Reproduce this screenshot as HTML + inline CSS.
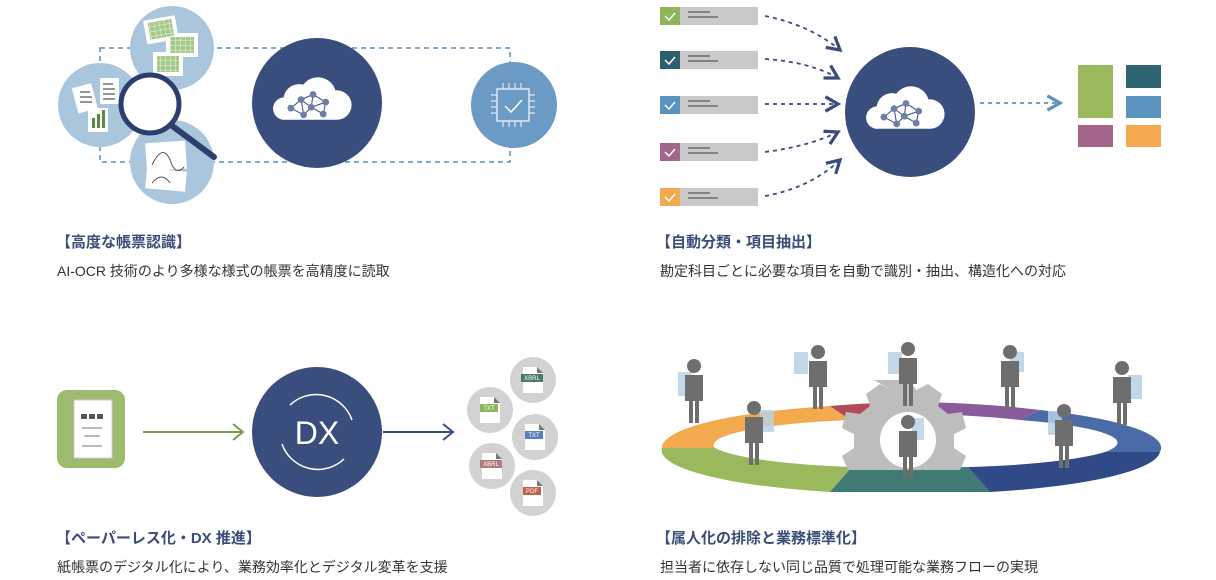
<!DOCTYPE html>
<html><head><meta charset="utf-8"><style>
body{margin:0;background:#fff;width:1216px;height:580px;overflow:hidden;font-family:"Liberation Sans","Noto Sans CJK JP",sans-serif}
.t{position:absolute;font-size:15px;font-weight:bold;color:#3b4c7a;white-space:nowrap}
.s{position:absolute;font-size:14px;color:#333;white-space:nowrap}
</style></head><body>
<svg width="1216" height="580" style="position:absolute;left:0;top:0">
<defs>
<marker id="ah" markerWidth="10" markerHeight="10" refX="8" refY="5" orient="auto"><path d="M1,1 L8,5 L1,9" fill="none" stroke="#3b4c7a" stroke-width="1.8"/></marker>
<marker id="ahb" markerWidth="10" markerHeight="10" refX="8" refY="5" orient="auto"><path d="M1,1 L8,5 L1,9" fill="none" stroke="#5b93bf" stroke-width="1.8"/></marker>
<pattern id="grid" width="5" height="5" patternUnits="userSpaceOnUse"><rect width="5" height="5" fill="#a6c98a"/><path d="M0,0H5M0,0V5" stroke="#fff" stroke-width="0.8"/></pattern>
<g id="cloud"><path transform="scale(0.7)" d="M-40,24 a16,16 0 0 1 -2,-32 a22,22 0 0 1 28,-18 a26,26 0 0 1 46,8 a20,20 0 0 1 4,42 z" fill="#fff"/>
<g transform="scale(0.85)">
<g stroke="#3b4c7a" stroke-width="1.2" fill="none"><path d="M-26,6 L-14,-4 L0,-10 L15,-1 L12,13 L-2,5 L-14,-4 M-26,6 L-11,14 L-2,5 L0,-10 M-2,5 L15,-1 M-14,-4 L-11,14"/></g>
<g fill="#6f7ea6"><circle cx="-26" cy="6" r="4"/><circle cx="-14" cy="-4" r="4"/><circle cx="0" cy="-10" r="4"/><circle cx="15" cy="-1" r="4"/><circle cx="12" cy="13" r="4"/><circle cx="-2" cy="5" r="4"/><circle cx="-11" cy="14" r="4"/></g></g></g>
<g id="person"><circle cx="0" cy="-36" r="7" fill="#6e6e6e"/><path d="M-9,-27 h18 v26 h-4 v22 h-4 v-22 h-2 v22 h-4 v-22 h-4z" fill="#6e6e6e"/></g>
<g id="file"><path d="M-10,-13 h14 l6,6 v20 h-20z" fill="#fff"/><path d="M4,-13 l6,6 h-6z" fill="#777"/></g>
</defs>
<!-- Panel 1 -->
<rect x="100" y="48" width="410" height="114" fill="none" stroke="#5b8fbd" stroke-width="1.5" stroke-dasharray="5,4"/>
<circle cx="172" cy="48" r="42" fill="#a9c6dd"/>
<circle cx="100" cy="105" r="42" fill="#a9c6dd"/>
<circle cx="172" cy="162" r="42" fill="#a9c6dd"/>
<g fill="#fff"><rect x="145" y="18" width="32" height="24" transform="rotate(-10 160 30)"/><rect x="166" y="33" width="32" height="24"/><rect x="153" y="52" width="30" height="24"/></g>
<g fill="url(#grid)"><rect x="149" y="21" width="24" height="17" transform="rotate(-10 160 30)"/><rect x="170" y="37" width="24" height="16"/><rect x="157" y="56" width="22" height="16"/></g>
<g fill="#fff"><rect x="75" y="85" width="20" height="26" transform="rotate(-15 86 99)"/><rect x="100" y="78" width="19" height="26"/><rect x="88" y="108" width="20" height="24"/><rect x="146" y="142" width="40" height="28" transform="rotate(-4 166 155)"/><rect x="146" y="170" width="40" height="20" transform="rotate(5 166 180)"/></g>
<g stroke="#555" stroke-width="1.2"><path d="M80,92h10M80,97h12M80,102h12M103,84h10M103,89h12M103,94h12M103,99h12"/></g>
<g fill="#5a8a3a"><rect x="92" y="118" width="3" height="10"/><rect x="97" y="114" width="3" height="14"/><rect x="102" y="110" width="3" height="18"/></g>
<path d="M152,165 q12,-25 20,0 q5,10 12,2" fill="none" stroke="#555"/><path d="M152,183 q10,-12 18,0" fill="none" stroke="#555"/>
<circle cx="150" cy="104" r="29" fill="#fff" stroke="#2c3e6b" stroke-width="5"/>
<line x1="171" y1="125" x2="214" y2="157" stroke="#2c3e6b" stroke-width="6" stroke-linecap="round"/>
<circle cx="317" cy="103" r="65" fill="#3a4e7e"/>
<use href="#cloud" x="313" y="103"/>
<circle cx="514" cy="105" r="43" fill="#6b9ac4"/>
<rect x="497" y="89" width="32" height="32" fill="none" stroke="#dbe8f3" stroke-width="1.5"/>
<path d="M505,106 l6,6 l11,-12" fill="none" stroke="#fff" stroke-width="1.5"/>
<g stroke="#dbe8f3" stroke-width="1.2"><path d="M503,83v6M509,83v6M515,83v6M521,83v6M503,121v6M509,121v6M515,121v6M521,121v6M491,95h6M491,101h6M491,107h6M491,113h6M529,95h6M529,101h6M529,107h6M529,113h6"/></g>
<!-- Panel 2 -->
<g>
<rect x="660" y="7" width="98" height="18" fill="#c9c9c9"/><rect x="660" y="7" width="20" height="18" fill="#8fb55a"/>
<rect x="660" y="51" width="98" height="18" fill="#c9c9c9"/><rect x="660" y="51" width="20" height="18" fill="#2f5f6e"/>
<rect x="660" y="96" width="98" height="18" fill="#c9c9c9"/><rect x="660" y="96" width="20" height="18" fill="#5b93bf"/>
<rect x="660" y="143" width="98" height="18" fill="#c9c9c9"/><rect x="660" y="143" width="20" height="18" fill="#a3668a"/>
<rect x="660" y="188" width="98" height="18" fill="#c9c9c9"/><rect x="660" y="188" width="20" height="18" fill="#f3a94e"/>
<g fill="none" stroke="#fff" stroke-width="1.5"><path d="M665,16 l4,4 l6,-7M665,60 l4,4 l6,-7M665,105 l4,4 l6,-7M665,152 l4,4 l6,-7M665,197 l4,4 l6,-7"/></g>
<g stroke="#6a6a6a" stroke-width="1.5"><path d="M688,12h22M688,17h30M688,56h22M688,61h30M688,101h22M688,106h30M688,148h22M688,153h30M688,193h22M688,198h30"/></g>
</g>
<g fill="none" stroke="#3b4c7a" stroke-width="1.8" stroke-dasharray="4,4" marker-end="url(#ah)">
<path d="M765,16 Q810,25 840,50"/><path d="M765,59 Q810,62 838,78"/><path d="M765,104 L838,104"/><path d="M765,152 Q810,146 838,132"/><path d="M765,196 Q810,188 840,160"/>
</g>
<circle cx="910" cy="112" r="65" fill="#3a4e7e"/>
<use href="#cloud" x="906" y="112"/>
<line x1="980" y1="103" x2="1060" y2="103" stroke="#5b93bf" stroke-width="1.8" stroke-dasharray="4,4" marker-end="url(#ahb)"/>
<rect x="1078" y="65" width="35" height="53" fill="#9ab85c"/><rect x="1126" y="65" width="35" height="23" fill="#2f6471"/><rect x="1126" y="96" width="35" height="22" fill="#5b93bf"/><rect x="1078" y="125" width="35" height="22" fill="#a3668a"/><rect x="1126" y="125" width="35" height="22" fill="#f3a94e"/>
<!-- Panel 3 -->
<rect x="57" y="390" width="68" height="78" rx="10" fill="#9dba6e"/>
<rect x="74" y="400" width="38" height="58" fill="#fff" stroke="#ccc"/>
<g fill="#555"><rect x="81" y="414" width="6" height="5"/><rect x="89" y="414" width="6" height="5"/><rect x="97" y="414" width="6" height="5"/></g>
<g stroke="#777"><path d="M82,428h20M84,436h16M82,446h20"/></g>
<line x1="143" y1="432" x2="243" y2="432" stroke="#7a9a4a" stroke-width="2"/><path d="M233,424 L243,432 L233,440" fill="none" stroke="#7a9a4a" stroke-width="2"/>
<circle cx="317" cy="432" r="65" fill="#3a4e7e"/>
<path d="M290,405 A38,38 0 0 1 352,420" fill="none" stroke="#fff" stroke-width="1.5"/><path d="M344,459 A38,38 0 0 1 282,444" fill="none" stroke="#fff" stroke-width="1.5"/>
<text x="317" y="444" text-anchor="middle" font-family="Liberation Sans" font-size="32" fill="#fff">DX</text>
<line x1="383" y1="432" x2="453" y2="432" stroke="#3a4e7e" stroke-width="2"/><path d="M443,424 L453,432 L443,440" fill="none" stroke="#3a4e7e" stroke-width="2"/>
<g fill="#d2d2d2"><circle cx="533" cy="380" r="23"/><circle cx="490" cy="410" r="23"/><circle cx="535" cy="437" r="23"/><circle cx="492" cy="466" r="23"/><circle cx="533" cy="493" r="23"/></g>
<g font-size="6" fill="#fff" font-family="Liberation Sans" text-anchor="middle">
<use href="#file" x="533" y="380"/><rect x="521" y="374" width="22" height="8" fill="#4a7a6a"/><text x="532" y="380">XBRL</text>
<use href="#file" x="490" y="410"/><rect x="480" y="404" width="18" height="8" fill="#8fb55a"/><text x="489" y="410">TXT</text>
<use href="#file" x="535" y="437"/><rect x="525" y="431" width="18" height="8" fill="#5b7fbf"/><text x="534" y="437">TXT</text>
<use href="#file" x="492" y="466"/><rect x="480" y="460" width="22" height="8" fill="#b07a80"/><text x="491" y="466">XBRL</text>
<use href="#file" x="533" y="493"/><rect x="523" y="487" width="18" height="8" fill="#c06050"/><text x="532" y="493">PDF</text>
</g>
<!-- Panel 4 -->
<path d="M662,448 A248,44 0 0 1 830,406 L850,420 A190,26 0 0 0 715,448 Z" fill="#f3a94e"/>
<path d="M662,448 A248,44 0 0 0 830,492 L852,467 A190,26 0 0 1 715,448 Z" fill="#9ab85c"/>
<path d="M830,492 L990,492 L968,467 L852,467 Z" fill="#3f7a74"/>
<path d="M990,492 A248,44 0 0 0 1160,452 L1105,452 A190,26 0 0 1 968,467 Z" fill="#2f4a86"/>
<path d="M1160,452 A248,44 0 0 0 1040,410 L1020,420 A190,26 0 0 1 1105,452 Z" fill="#4a6aa8"/>
<path d="M830,406 A248,44 0 0 1 910,402 L910,414 A190,26 0 0 0 850,420Z" fill="#b34a5a"/>
<path d="M910,402 A248,44 0 0 1 1040,410 L1020,420 A190,26 0 0 0 910,414Z" fill="#8a5a9a"/>
<path d="M874,380 h36 l6,10 12,-6 14,10 -4,12 10,8 14,-2 4,16 -12,6 v14 l12,8 -6,14 H848 l-6,-14 12,-8 v-14 l-12,-6 4,-16 14,2 10,-8 -4,-12 14,-10 12,6z" fill="#bdbdbd"/>
<circle cx="908" cy="440" r="28" fill="#fff"/>
<g fill="#b8d2e6" opacity="0.85"><rect x="678" y="372" width="14" height="24"/><rect x="794" y="352" width="14" height="22"/><rect x="888" y="352" width="14" height="22"/><rect x="1010" y="352" width="14" height="20"/><rect x="1128" y="375" width="14" height="24"/><rect x="760" y="410" width="14" height="22"/><rect x="1048" y="411" width="14" height="24"/><rect x="912" y="418" width="12" height="22"/></g>
<use href="#person" x="694" y="402"/><use href="#person" x="818" y="388"/><use href="#person" x="908" y="385"/><use href="#person" x="1010" y="388"/><use href="#person" x="1122" y="404"/><use href="#person" x="754" y="444"/><use href="#person" x="1064" y="447"/><use href="#person" x="908" y="458"/>
</svg>
<div class="t" style="left:56px;top:231px">【高度な帳票認識】</div>
<div class="s" style="left:57px;top:261px">AI-OCR 技術のより多様な様式の帳票を高精度に読取</div>
<div class="t" style="left:656px;top:231px">【自動分類・項目抽出】</div>
<div class="s" style="left:660px;top:261px">勘定科目ごとに必要な項目を自動で識別・抽出、構造化への対応</div>
<div class="t" style="left:56px;top:527px">【ペーパーレス化・DX 推進】</div>
<div class="s" style="left:57px;top:557px">紙帳票のデジタル化により、業務効率化とデジタル変革を支援</div>
<div class="t" style="left:656px;top:527px">【属人化の排除と業務標準化】</div>
<div class="s" style="left:660px;top:557px">担当者に依存しない同じ品質で処理可能な業務フローの実現</div>
</body></html>
